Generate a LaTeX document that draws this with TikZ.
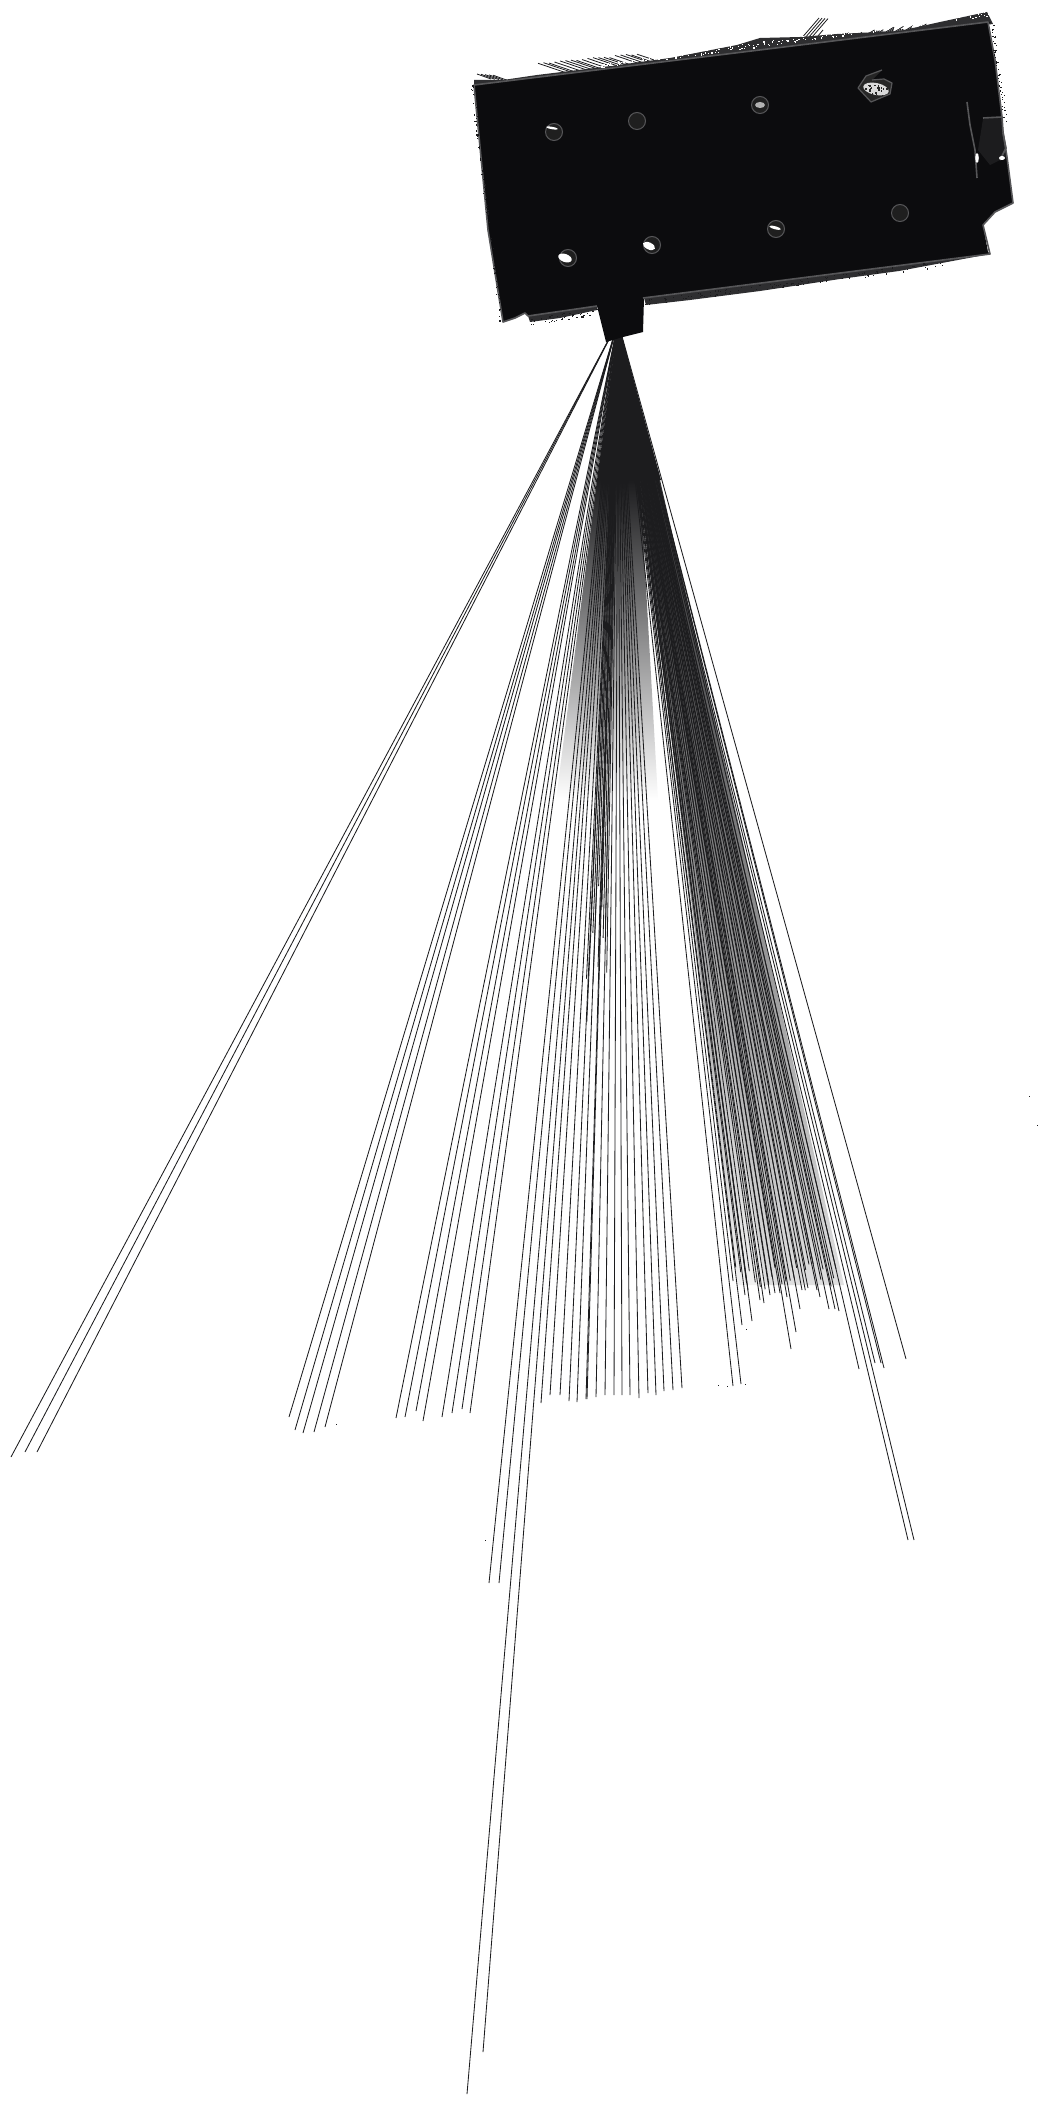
\documentclass[tikz,border=0pt]{standalone}
\definecolor{scan}{HTML}{1C1C1E}
\definecolor{wallblack}{HTML}{0C0C0E}
\definecolor{fringe}{HTML}{2E2E30}
\definecolor{edgegrey}{HTML}{565658}
\tikzset{
  ray/.style={draw=scan,line width=0.42pt},
  hair/.style={draw=scan,line width=0.4pt},
  speck/.style={fill=scan,draw=none},
  ringhole/.style={draw=edgegrey,fill=black!88,line width=0.5pt},
  glint/.style={fill=white,draw=none}
}
\begin{document}
\begin{tikzpicture}[x=0.5pt,y=-0.5pt]
\useasboundingbox[fill=white] (0,0) rectangle (1048,2102);
\coordinate (apex) at (618,322);
\pgfmathsetseed{11}
% tone of the fan where the rays merge
\fill[scan] (apex) -- (661,480) -- (597,480) -- cycle;
\shade[top color=scan,middle color=scan!42!white,bottom color=white]
  (597,480) -- (640,480) -- (658,800) -- (556,800) -- cycle;
\shade[top color=scan!85!white,middle color=scan!30!white,bottom color=scan!6!white]
  (640,480) -- (650,480) -- (768,1285) -- (738,1285) -- cycle;
\shade[top color=scan!92!white,middle color=scan!50!white,bottom color=scan!14!white]
  (648,480) -- (660,480) -- (844,1285) -- (765,1285) -- cycle;
% rays
\foreach \px/\py in {
 11/1457,25/1452,37/1452,
 289/1417,295/1430,303/1433,314/1432,325/1427,
 396/1418,405/1417,416/1411,423/1421,442/1417,452/1413,462/1409,470/1413,
 489/1583,499/1583,467/2094,483/2052,
 541/1403,550/1395,560/1395,569/1401,577/1402,586/1399,587/1399,596/1397,605/1395,
 614/1395,622/1395,630/1395,639/1398,648/1393,656/1395,664/1391,673/1390,682/1388,
 733/1386,741/1384,742/1325,752/1321,745/1295,748/1290,760/1300,764/1303,770/1295,
 775/1293,780/1293,787/1297,791/1349,796/1332,800/1309,802/1290,808/1288,817/1290,
 820/1297,829/1309,835/1309,839/1311,859/1369,875/1363,881/1363,884/1368,906/1359,
 908/1540,914/1540}
  \draw[ray] (apex) -- (\px,\py);
% extra rays of the middle band
\foreach \i in {0,...,9}{
  \pgfmathsetmacro{\sl}{-0.048+0.0034*\i}
  \pgfmathsetmacro{\ey}{880+rnd*150}
  \pgfmathsetmacro{\ex}{618+\sl*(\ey-322)}
  \draw[ray] (apex) -- (\ex,\ey);
}
% extra rays of the right band
\foreach \i in {0,...,24}{
  \pgfmathsetmacro{\sl}{0.12+0.0046*\i}
  \pgfmathsetmacro{\ey}{1262+rnd*30}
  \pgfmathsetmacro{\ex}{618+\sl*(\ey-322)}
  \draw[ray] (apex) -- (\ex,\ey);
}
% hairs above the wall
\foreach \i in {0,...,18}{
  \pgfmathsetmacro{\sx}{538+\i*5.5}
  \pgfmathsetmacro{\sy}{63-\i*0.55+rnd*2}
  \draw[hair] (\sx,\sy) -- ++(28,9.5);
}
\foreach \i in {0,...,4}{
  \pgfmathsetmacro{\sx}{477+\i*4}
  \pgfmathsetmacro{\sy}{74+\i*0.3}
  \draw[hair] (\sx,\sy) -- ++(14,5);
}
\foreach \i in {0,...,3}
  \draw[hair] (800+\i*3,40+\i*0.2) -- ++(19,-22);
\draw[hair] (812,43) -- (823,30);
\foreach \i in {0,...,34}{
  \pgfmathsetmacro{\sx}{825+\i*2.6}
  \pgfmathsetmacro{\sy}{42-\i*0.3}
  \pgfmathsetmacro{\ln}{6+rnd*9}
  \draw[hair] (\sx,\sy) -- ++(\ln,-0.6*\ln);
}
% fringes along the wall
\fill[fringe] (474,80) -- (503,80) -- (537,75) -- (603,67) -- (670,58) -- (737,45) -- (760,38)
  -- (800,37) -- (837,34) -- (900,31) -- (940,22) -- (987,12) -- (993,24) -- (474,88) -- cycle;
\fill[fringe] (644,298) -- (990,254) -- (899,271) -- (840,279) -- (760,291) -- (690,300)
  -- (646,305) -- cycle;
\fill[fringe] (528,316) -- (597,306) -- (597,310) -- (560,318) -- (530,322) -- cycle;
% speckle above the wall
\foreach \i in {0,...,200}{
  \pgfmathsetmacro{\t}{rnd}
  \pgfmathsetmacro{\ex}{600+388*\t}
  \pgfmathsetmacro{\ey}{68-52*\t-rnd*5}
  \fill[white] (\ex,\ey) rectangle ++(1.2,1.2);
}
% wall area
\fill[wallblack] (474,85) -- (988,22) -- (995,60) -- (1002,117) -- (1003,132) -- (1007,157)
  -- (1013,203) -- (995,212) -- (983,225) -- (988,252) -- (990,254) -- (644,298) -- (643,332)
  -- (623,337) -- (606,342) -- (603,330) -- (597,306) -- (528,316) -- (525,313) -- (515,318)
  -- (503,322) -- (488,230) -- cycle;
\fill[scan] (983,119) -- (1002,117) -- (1006,157) -- (990,165) -- (978,150) -- cycle;
% grey edge
\draw[edgegrey,line width=0.8pt,line join=round]
  (643,298) -- (990,254) -- (983,225) -- (995,212) -- (1013,203) -- (1007,157) -- (1003,132)
  -- (1002,117) -- (995,60) -- (988,22) -- (474,85) -- (488,230) -- (503,322) -- (515,318)
  -- (525,313) -- (528,316) -- (597,306);
\draw[edgegrey,line width=0.8pt] (967,102) -- (970,125) -- (975,150) -- (977,178);
\draw[edgegrey,line width=0.8pt] (983,118) -- (1002,117);
\draw[edgegrey,line width=0.8pt] (1003,133) -- (1006,148) -- (1000,160);
\fill[white] (977,158) ellipse (1.8 and 5);
\fill[white] (1002,158) ellipse (3 and 2);
% speckle along the outer edges
\foreach \i in {0,...,110}{
  \pgfmathsetmacro{\t}{rnd}
  \pgfmathsetmacro{\ex}{644+300*\t}
  \pgfmathsetmacro{\ey}{299-38.5*\t+rnd*6}
  \fill[speck] (\ex,\ey) rectangle ++(1.2,1.2);
}
\foreach \i in {0,...,70}{
  \pgfmathsetmacro{\t}{rnd}
  \pgfmathsetmacro{\ex}{474+29*\t-1-rnd*3}
  \pgfmathsetmacro{\ey}{85+237*\t}
  \fill[speck] (\ex,\ey) rectangle ++(1.2,1.2);
}
\foreach \i in {0,...,50}{
  \pgfmathsetmacro{\t}{rnd}
  \pgfmathsetmacro{\ex}{988+15*\t+1+rnd*4}
  \pgfmathsetmacro{\ey}{22+100*\t}
  \fill[speck] (\ex,\ey) rectangle ++(1.2,1.2);
}
\foreach \i in {0,...,45}{
  \pgfmathsetmacro{\t}{rnd}
  \pgfmathsetmacro{\ex}{530+68*\t}
  \pgfmathsetmacro{\ey}{318-10*\t+rnd*7}
  \fill[speck] (\ex,\ey) rectangle ++(1.2,1.2);
}
% holes
\foreach \hx/\hy in {554/132,637/121,760/105,900/213,776/229,652/245,568/258}
  \draw[ringhole] (\hx,\hy) circle (8.5);
\fill[glint,rotate around={-10:(552,128)}] (552,128) ellipse (6 and 1.2);
\fill[white!70!black] (760,105) ellipse (5 and 3);
\fill[glint,rotate around={-15:(776,228)}] (775,228) ellipse (6 and 1.5);
\fill[glint,rotate around={-25:(649,246)}] (649,246) ellipse (6.5 and 3.5);
\fill[glint,rotate around={-20:(565,258)}] (565,258) ellipse (7 and 4);
\draw[edgegrey,line width=0.6pt,fill=black!85,line join=round]
  (882,70) -- (866,76) -- (858,88) -- (871,102) -- (890,94) -- (892,83) -- (884,79) -- (872,80);
\fill[white!85!black,rotate around={-12:(876,89)}] (876,89) ellipse (13 and 6);
\foreach \i in {0,...,26}{
  \pgfmathsetmacro{\ex}{864+rnd*25}
  \pgfmathsetmacro{\ey}{83+rnd*12}
  \fill[black!85] (\ex,\ey) rectangle ++(1.6,1.6);
}
% stray returns
\foreach \px/\py in {1029/1096,1037/1125,485/1540,718/1385,746/1329,336/1424,727/1386,745/1384}
  \fill[speck] (\px,\py) rectangle ++(1.4,1.4);
\end{tikzpicture}
\end{document}
